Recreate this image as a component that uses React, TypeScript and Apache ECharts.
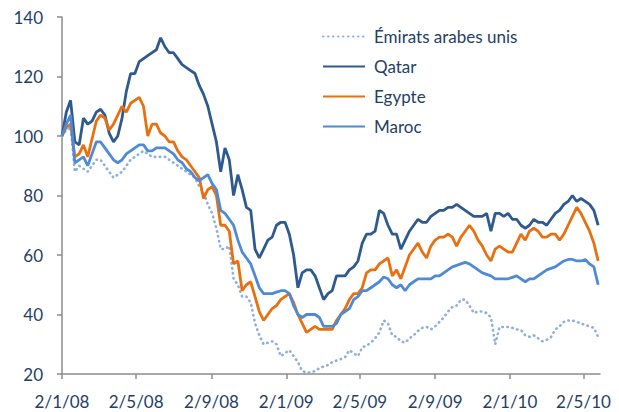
import React, { useEffect, useRef } from "react";
import * as echarts from "echarts";

// Weekly observations starting 2 Jan 2008 (index base 100)
const startDate = "2008-01-02";
const stepDays = 7;

const emirats = [100, 102, 103, 88, 90, 89, 88, 90, 92, 92, 90, 88, 86, 87, 88, 90, 92, 93, 94, 95, 94, 93, 93, 93, 93, 92, 91, 90, 89, 88, 87, 86, 83, 81, 77, 74, 69, 62, 62, 63, 52, 50, 46, 46, 44, 37, 33, 30, 30.5, 31, 30, 26, 27, 28, 26, 24, 21, 20.5, 20.5, 21, 22, 22.5, 23, 24, 24.5, 25, 25.7, 28, 27, 26, 29, 29.5, 30.5, 32, 34, 38, 37, 33, 32.5, 31, 30.5, 32, 33, 34.5, 35.5, 35.8, 35, 36, 37.5, 39, 41, 42.5, 43, 45, 45, 43, 40.5, 41, 41, 40.5, 39, 30, 35.8, 35.8, 35.8, 35.5, 35, 34.8, 33, 32.5, 33, 32, 31, 31.5, 32.4, 35, 36, 37.5, 38, 38, 37.5, 37, 36.5, 36, 35.5, 32.5];

const qatar = [100, 108, 112, 98, 97, 106, 104, 105, 108, 109, 107, 101, 98, 100, 106, 115, 121, 121, 125, 126, 127, 128, 129, 133, 130, 128, 128, 126, 124, 123, 122, 121, 117, 114, 110, 104, 98, 88, 96, 92, 80, 87, 82, 76, 75, 62, 59, 62, 65, 66, 70, 71, 71, 67, 60, 49, 54, 55, 55, 53, 49, 45, 47, 48, 53, 53, 53, 55, 56, 58, 64, 67, 67, 68, 75, 74, 70, 67, 67, 62, 65, 68, 70, 72, 71, 71, 73, 74, 75, 75, 76, 76, 77, 76, 75, 74, 73, 73, 73, 74, 68, 74, 74, 73, 74, 72, 72, 70, 69, 70, 72, 71, 71, 70, 72, 74, 75, 77, 78, 80, 78, 79, 78, 77, 75, 70];

const egypte = [100, 103, 104, 93, 94, 97, 93, 99, 105, 107, 106, 102, 104, 107, 110, 108, 111, 112, 113, 110, 100, 104, 104, 101, 100, 98, 98, 95, 93, 92, 90, 88, 86, 79, 82, 83, 80, 70, 70, 68, 57, 58, 48, 50, 51, 46, 41, 38, 40, 42, 43, 45, 46, 47, 44, 40, 37, 34, 35, 36, 35, 35, 35, 35, 38, 40, 42, 45, 47, 47, 49, 54, 55, 55, 57, 58, 59, 53, 55, 52, 56, 60, 62, 64, 61, 59, 63, 65, 66, 66, 67, 66, 63, 66, 68, 70, 68, 65, 63, 60, 58, 62, 63, 62, 61, 61, 64, 67, 65, 68, 69, 68, 66, 66, 67, 67, 65, 67, 70, 73, 76, 74, 71, 68, 64, 58];

const maroc = [100, 104, 107, 91, 92, 93, 90, 94, 98, 98, 96, 94, 92, 91, 92, 94, 95, 96, 97, 97, 95, 95, 96, 96, 96, 95, 94, 92, 91, 89, 88, 86, 85, 86, 87, 84, 82, 75, 74, 72, 70, 65, 61, 59, 57, 53, 49, 47, 47, 47, 47.5, 48, 48, 47, 43, 40, 39, 40, 40, 40, 39, 36, 36, 36, 37, 40, 41, 42, 45, 46, 48, 48, 49, 50, 51, 52.6, 52, 50, 49, 50, 48, 50, 51, 52, 52, 52, 52, 53, 53, 54, 55, 56, 56.5, 57, 57.5, 57, 56, 55, 54, 53.5, 53, 52, 52, 52, 52, 52.5, 53, 52, 51, 52, 52, 53, 54, 55, 55.5, 56, 57, 58, 58.5, 58.5, 58, 58, 58.5, 57, 56, 50];

const tickDates = ["2008-01-02", "2008-05-02", "2008-09-02", "2009-01-02", "2009-05-02", "2009-09-02", "2010-01-02", "2010-05-02"];
const tickLabels = ["2/1/08", "2/5/08", "2/9/08", "2/1/09", "2/5/09", "2/9/09", "2/1/10", "2/5/10"];
const axisEndDate = "2010-05-29";

const DAY = 86400000;
const dayOf = (d: string) => Math.round((Date.parse(d) - Date.parse(startDate)) / DAY);

const textColor = "#243F66";
const font = "Lato";

export default function App() {
  const ref = useRef<HTMLDivElement>(null);
  useEffect(() => {
    if (!ref.current) return;
    const chart = echarts.init(ref.current, undefined, { renderer: "svg" });
    const tickDays = tickDates.map(dayOf);
    const labelMap: Record<number, string> = {};
    tickDays.forEach((d, i) => (labelMap[d] = tickLabels[i]));
    const toPairs = (arr: number[]) => arr.map((v, i) => [i * stepDays, v]);
    const lineSeries = (name: string, data: number[], color: string, extra: any = {}) => ({
      name,
      type: "line",
      data: toPairs(data),
      showSymbol: false,
      symbol: "none",
      lineStyle: { color, width: 2.8, ...extra },
      itemStyle: { color },
      emphasis: { disabled: true },
    });
    chart.setOption({
      animation: false,
      grid: { left: 62, right: 19, top: 17, bottom: 38, containLabel: false },
      legend: {
        orient: "vertical",
        left: 322,
        top: 28,
        padding: 0,
        itemWidth: 42,
        itemHeight: 14,
        itemGap: 13,
        itemStyle: { opacity: 0 },
        data: ["Émirats arabes unis", "Qatar", "Egypte", "Maroc"],
        textStyle: { color: textColor, fontFamily: font, fontSize: 17, padding: [0, 0, 0, 4] },
      },
      xAxis: {
        type: "value",
        min: 0,
        max: dayOf(axisEndDate),
        splitLine: { show: false },
        axisLine: { show: true, lineStyle: { color: "#8C8C8C", width: 1.5 } },
        axisTick: { show: true, customValues: tickDays, length: 5, lineStyle: { color: "#8C8C8C", width: 1.5 } },
        axisLabel: {
          customValues: tickDays,
          formatter: (v: number) => labelMap[v] ?? "",
          color: textColor,
          fontFamily: font,
          fontSize: 17,
          margin: 19,
        },
      },
      yAxis: {
        type: "value",
        min: 20,
        max: 140,
        interval: 20,
        splitLine: { show: false },
        axisLine: { show: true, lineStyle: { color: "#8C8C8C", width: 1.5 } },
        axisTick: { show: true, length: 5, lineStyle: { color: "#8C8C8C", width: 1.5 } },
        axisLabel: { color: textColor, fontFamily: font, fontSize: 17, margin: 19 },
      },
      series: [
        lineSeries("Émirats arabes unis", emirats, "#8FB0DE", { type: [0.5, 4.5], cap: "round", width: 2.6 }),
        lineSeries("Qatar", qatar, "#2F5A8F"),
        lineSeries("Egypte", egypte, "#E8700F"),
        lineSeries("Maroc", maroc, "#4E8AD6"),
      ],
    });
    return () => chart.dispose();
  }, []);
  return (
    <div
      ref={ref}
      style={{ position: "fixed", left: 0, top: 0, width: 619, height: 412, background: "#fff" }}
    />
  );
}
